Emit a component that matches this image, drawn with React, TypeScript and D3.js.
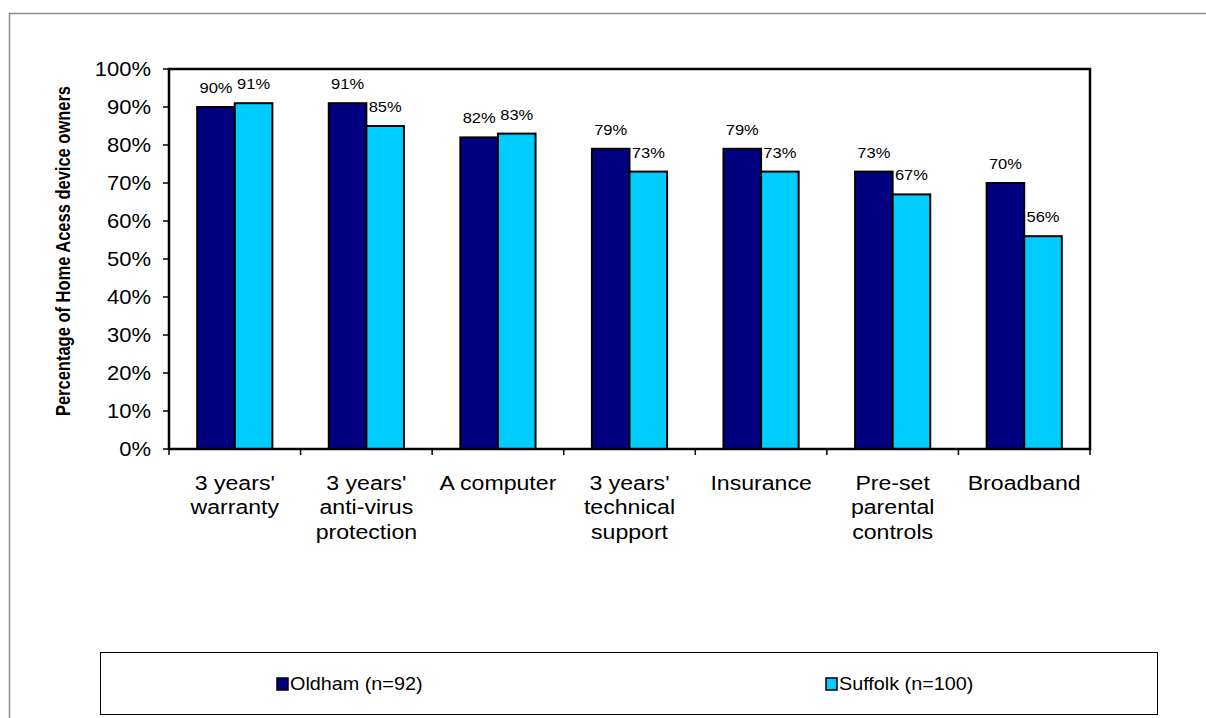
import React from "react";
import * as d3 from "d3";

const categories: string[][] = [
  ["3 years'", "warranty"],
  ["3 years'", "anti-virus", "protection"],
  ["A computer"],
  ["3 years'", "technical", "support"],
  ["Insurance"],
  ["Pre-set", "parental", "controls"],
  ["Broadband"],
];
const oldham = [90, 91, 82, 79, 79, 73, 70];
const suffolk = [91, 85, 83, 73, 73, 67, 56];
const seriesNames = ["Oldham (n=92)", "Suffolk (n=100)"];
const colors = ["#000080", "#00CCFF"];
const yTicks = [0, 10, 20, 30, 40, 50, 60, 70, 80, 90, 100];

const FONT = "'Liberation Sans', Arial, sans-serif";
const SX = 1.1;

export default function App() {
  const left = 169, right = 1090, top = 69, bottom = 449;
  const x = d3.scaleBand<number>().domain(d3.range(categories.length)).range([left, right]).paddingInner(0).paddingOuter(0);
  const y = d3.scaleLinear().domain([0, 100]).range([bottom, top]);
  const bw = x.bandwidth() / 3.5;
  const series = [oldham, suffolk];

  return (
    <svg width={1206} height={718} style={{ position: "absolute", left: 0, top: 0, background: "#fff" }} fontFamily={FONT}>
      <rect x={9.5} y={13.5} width={1220} height={720} fill="#fff" stroke="#8c8c8c" strokeWidth={1.5} />
      {/* y ticks */}
      {yTicks.map((t) => (
        <g key={t}>
          <line x1={left - 6} x2={left} y1={y(t)} y2={y(t)} stroke="#000" strokeWidth={1.5} />
          <text transform={`translate(151, ${y(t)}) scale(${SX},1)`} dy="0.36em" textAnchor="end" fontSize={20}>{t}%</text>
        </g>
      ))}
      {/* x ticks */}
      {d3.range(categories.length + 1).map((i) => {
        const xx = left + i * x.step();
        return <line key={i} x1={xx} x2={xx} y1={bottom} y2={bottom + 6} stroke="#000" strokeWidth={1.5} />;
      })}
      {/* bars */}
      {categories.map((_, i) =>
        series.map((s, j) => {
          const bx = (x(i) as number) + bw * 0.75 + j * bw;
          return (
            <g key={`${i}-${j}`}>
              <rect x={bx} y={y(s[i])} width={bw} height={bottom - y(s[i])} fill={colors[j]} stroke="#000" strokeWidth={2} />
              <text transform={`translate(${bx + bw / 2}, ${y(s[i]) - 14}) scale(${SX},1)`} textAnchor="middle" fontSize={15}>{s[i]}%</text>
            </g>
          );
        })
      )}
      {/* plot frame */}
      <rect x={left} y={top} width={right - left} height={bottom - top} fill="none" stroke="#000" strokeWidth={2.5} />
      {/* x labels */}
      {categories.map((lines, i) => (
        <text key={i} transform={`translate(${(x(i) as number) + x.bandwidth() / 2}, 490) scale(${SX},1)`} textAnchor="middle" fontSize={21}>
          {lines.map((l, k) => (
            <tspan key={k} x={0} dy={k === 0 ? 0 : 24.5}>{l}</tspan>
          ))}
        </text>
      ))}
      {/* y title */}
      <text transform={`translate(70, ${(top + bottom) / 2 - 8}) rotate(-90) scale(1,1.25)`} textAnchor="middle" fontSize={16.5} fontWeight="bold">
        Percentage of Home Acess device owners
      </text>
      {/* legend */}
      <rect x={100.5} y={652.5} width={1057} height={62} fill="#fff" stroke="#000" strokeWidth={1} />
      {seriesNames.map((n, j) => {
        const lx = j === 0 ? 277 : 826;
        return (
          <g key={n}>
            <rect x={lx} y={678} width={11} height={12} fill={colors[j]} stroke="#000" strokeWidth={1.5} />
            <text transform={`translate(${lx + 13}, 684) scale(${SX},1)`} dy="0.36em" fontSize={18}>{n}</text>
          </g>
        );
      })}
    </svg>
  );
}
